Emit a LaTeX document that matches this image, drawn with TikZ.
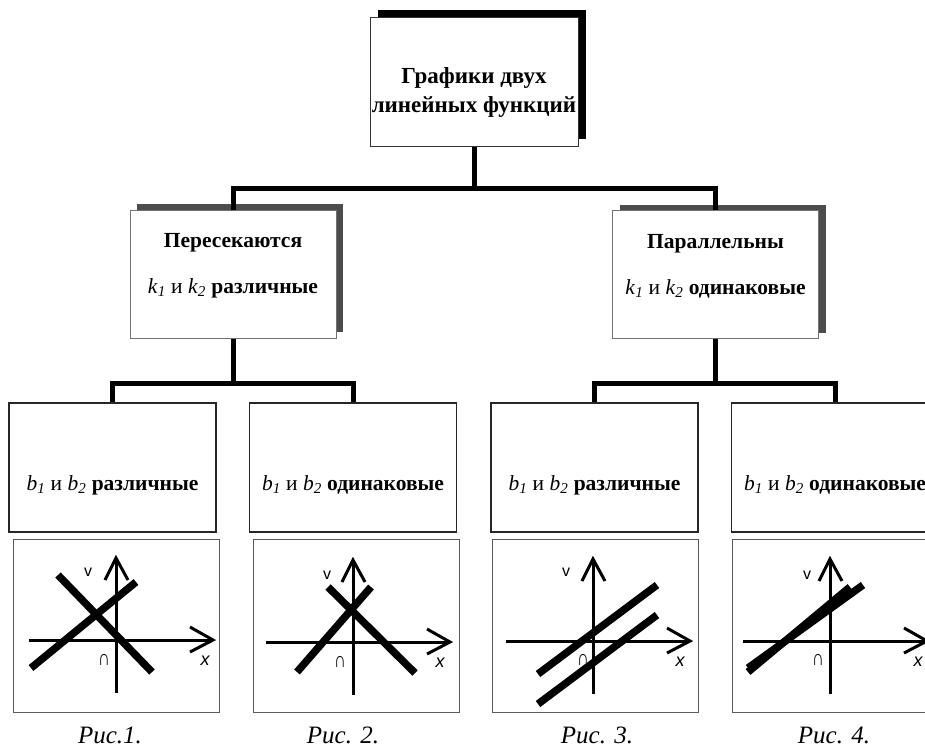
\documentclass[tikz,border=0pt]{standalone}
\usepackage{fontspec}
\setmainfont{Liberation Serif}
\newfontfamily\labfont{Liberation Sans}
\usetikzlibrary{shadows}
\newcommand\subvar[2]{\textit{#1}\textsubscript{\textit{#2}}}
\begin{document}
\begin{tikzpicture}[x=1pt,y=-1pt,
  conn/.style={line width=5pt, black},
  topbox/.style={draw=black!80, line width=1pt, fill=white, minimum width=208pt, minimum height=129pt,
     drop shadow={shadow xshift=8pt, shadow yshift=7pt, fill=black, opacity=1}},
  midbox/.style={draw=black!55, line width=1pt, fill=white, minimum width=206pt, minimum height=128pt,
     drop shadow={shadow xshift=7pt, shadow yshift=6pt, fill=black!70, opacity=1}},
  lowbox/.style={draw=black!85, line width=1.4pt, fill=white, minimum width=207pt, minimum height=129pt},
  graphbox/.style={draw=black!65, line width=1pt, minimum width=206pt, minimum height=173pt},
  toptxt/.style={anchor=base, font=\fontsize{23}{28}\selectfont\bfseries, inner sep=0pt},
  midtxt/.style={anchor=base, font=\fontsize{21.5}{26}\selectfont, inner sep=0pt},
  captxt/.style={anchor=base, font=\fontsize{25}{30}\selectfont\itshape, inner sep=0pt},
  axis/.style={line width=3pt, line join=miter},
  fline/.style={line width=7.5pt},
  vlbl/.style={font=\labfont\fontsize{16}{16}\selectfont, inner sep=0pt},
  olbl/.style={font=\labfont\fontsize{22}{22}\selectfont, inner sep=0pt, xscale=0.75},
  xlbl/.style={font=\labfont\itshape\fontsize{18}{18}\selectfont, inner sep=0pt}
]
\useasboundingbox (0,0) rectangle (925,753);
\clip (0,0) rectangle (925,753);
\fill[white] (0,0) rectangle (925,753);

\newcommand\axesdraw{%
  \draw[axis] (-87,0) -- (97,0);
  \draw[axis] (74,-13) -- (97,0) -- (74,12);
  \draw[axis] (0,53) -- (0,-82);
  \draw[axis] (-11,-60) -- (0,-82) -- (12,-60);
}

% top box
\node[topbox] (top) at (474,81.5) {};
\node[toptxt] (top1) at (474,83) {Графики двух};
\node[toptxt] (top2) at (474,112) {линейных функций};

% middle boxes
\node[midbox] (m1) at (233,274) {};
\node[midtxt] (m1a) at (233,247) {\bfseries Пересекаются};
\node[midtxt] (m1b) at (233,293) {\subvar{k}{1} и \subvar{k}{2} \bfseries различные};
\node[midbox] (m2) at (715.5,274.5) {};
\node[midtxt] (m2a) at (715.5,248) {\bfseries Параллельны};
\node[midtxt] (m2b) at (715.5,294) {\subvar{k}{1} и \subvar{k}{2} \bfseries одинаковые};

% connectors top level
\coordinate (j1) at (474,188);
\draw[conn] (top.south) -- (j1);
\draw[conn] (m1.north) |- (j1) -| (m2.north);

% bottom boxes
\node[lowbox] (b1) at (112.5,467.5) {};
\node[lowbox] (b2) at (353,467.5) {};
\node[lowbox] (b3) at (594.5,467.5) {};
\node[lowbox] (b4) at (835,467.5) {};
\node[midtxt] (b1t) at (112.5,490) {\subvar{b}{1} и \subvar{b}{2} \bfseries различные};
\node[midtxt] (b2t) at (353,490) {\subvar{b}{1} и \subvar{b}{2} \bfseries одинаковые};
\node[midtxt] (b3t) at (594.5,490) {\subvar{b}{1} и \subvar{b}{2} \bfseries различные};
\node[midtxt] (b4t) at (835,490) {\subvar{b}{1} и \subvar{b}{2} \bfseries одинаковые};

\coordinate (j2) at (233,383);
\coordinate (j3) at (715.5,383);
\draw[conn] (m1.south) -- (j2);
\draw[conn] (b1.north) |- (j2) -| (b2.north);
\draw[conn] (m2.south) -- (j3);
\draw[conn] (b3.north) |- (j3) -| (b4.north);

% graph boxes
\node[graphbox] (g1) at (116,625.5) {};
\node[graphbox] (g2) at (356,625.5) {};
\node[graphbox] (g3) at (595,625.5) {};
\node[graphbox] (g4) at (835,625.5) {};

% graph 1
\begin{scope}[shift={(116,640)}]
  \axesdraw
  \draw[fline] (-58,-65) -- (36,32);
  \draw[fline] (-85,28) -- (20,-58);
  \node[vlbl] (g1v) at (-28,-68) {v};
  \node[olbl] (g1o) at (-12,20) {∩};
  \node[xlbl] (g1x) at (89,21) {x};
\end{scope}
% graph 2
\begin{scope}[shift={(353,642)}]
  \axesdraw
  \draw[fline] (-56,30) -- (18,-55);
  \draw[fline] (-25,-55) -- (62,31);
  \node[vlbl] (g2v) at (-26,-67) {v};
  \node[olbl] (g2o) at (-13,20) {∩};
  \node[xlbl] (g2x) at (87,21) {x};
\end{scope}
% graph 3
\begin{scope}[shift={(593,641)}]
  \axesdraw
  \draw[fline] (-55,33) -- (64,-56);
  \draw[fline] (-55,63) -- (64,-26);
  \node[vlbl] (g3v) at (-27,-69) {v};
  \node[olbl] (g3o) at (-10,19) {∩};
  \node[xlbl] (g3x) at (87,21) {x};
\end{scope}
% graph 4
\begin{scope}[shift={(830,641)}]
  \axesdraw
  \draw[fline] (-82,31) -- (20,-54);
  \draw[fline] (-82,27) -- (33,-56);
  \node[vlbl] (g4v) at (-23,-66) {v};
  \node[olbl] (g4o) at (-12,19) {∩};
  \node[xlbl] (g4x) at (88,21) {x};
\end{scope}

% captions
\node[captxt] (c1) at (110,743) {Рис.1.};
\node[captxt] (c2) at (343,743) {Рис. 2.};
\node[captxt] (c3) at (597,743) {Рис. 3.};
\node[captxt] (c4) at (834,743) {Рис. 4.};
\end{tikzpicture}
\end{document}
